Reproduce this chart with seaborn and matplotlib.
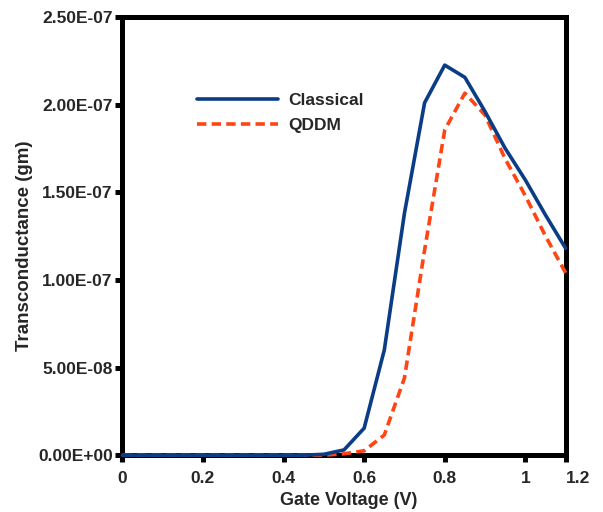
import matplotlib
matplotlib.use("Agg")
import matplotlib.pyplot as plt
from matplotlib.ticker import FuncFormatter
import seaborn as sns
import pandas as pd

# Gate voltage sweep (V)
gate_voltage = [0.00, 0.05, 0.10, 0.15, 0.20, 0.25, 0.30, 0.35, 0.40, 0.45,
                0.50, 0.55, 0.60, 0.65, 0.70, 0.75, 0.80, 0.85, 0.90, 0.95,
                1.00, 1.05, 1.10]

# Transconductance gm (S) for the two transport models
gm_classical = [0.0, 0.0, 0.0, 0.0, 0.0, 0.0, 0.0, 0.0, 0.0, 0.0,
                5.0e-10, 3.0e-9, 1.54e-8, 6.0e-8, 1.38e-7, 2.01e-7, 2.225e-7, 2.155e-7,
                1.96e-7, 1.75e-7, 1.57e-7, 1.37e-7, 1.18e-7]
gm_qddm = [0.0, 0.0, 0.0, 0.0, 0.0, 0.0, 0.0, 0.0, 0.0, 0.0,
           0.0, 8.0e-10, 2.5e-9, 1.15e-8, 4.4e-8, 1.17e-7, 1.855e-7, 2.065e-7,
           1.94e-7, 1.69e-7, 1.48e-7, 1.25e-7, 1.04e-7]

x_ticks = [0.0, 0.2, 0.4, 0.6, 0.8, 1.0, 1.1]
x_tick_labels = ["0", "0.2", "0.4", "0.6", "0.8", "1", "1.2"]
y_ticks = [0.0, 5.0e-8, 1.0e-7, 1.5e-7, 2.0e-7, 2.5e-7]

sns.set_theme(style="white")
plt.rcParams["font.family"] = ["Liberation Sans", "DejaVu Sans"]
plt.rcParams["font.weight"] = "bold"

df = pd.DataFrame({"Vg": gate_voltage, "Classical": gm_classical, "QDDM": gm_qddm})

fig = plt.figure(figsize=(6.03, 5.12), dpi=100)
ax = fig.add_axes([0.203, 0.111, 0.735, 0.856])

sns.lineplot(data=df, x="Vg", y="QDDM", ax=ax, color="#FF4514",
             linewidth=2.6, dashes=(2.6, 1.45), label="QDDM",
             clip_on=False, zorder=4)
sns.lineplot(data=df, x="Vg", y="Classical", ax=ax, color="#0B3D86",
             linewidth=2.6, label="Classical", clip_on=False, zorder=5)

ax.set_xlim(0, 1.1)
ax.set_ylim(0, 2.5e-7)
ax.set_xticks(x_ticks)
ax.set_xticklabels(x_tick_labels)
ax.get_xticklabels()[-1].set_horizontalalignment("left")
ax.set_yticks(y_ticks)
ax.yaxis.set_major_formatter(FuncFormatter(lambda v, p: f"{v:.2E}"))

for side in ["left", "right", "top", "bottom"]:
    ax.spines[side].set_visible(True)
    ax.spines[side].set_color("black")
    ax.spines[side].set_linewidth(3.6)
    ax.spines[side].set_zorder(3)

ax.tick_params(axis="both", which="major", direction="out", length=5, width=3.6,
               color="black", labelsize=12.5, bottom=True, left=True)
ax.tick_params(axis="x", pad=6.5)
ax.tick_params(axis="y", pad=2)
for lab in ax.get_xticklabels() + ax.get_yticklabels():
    lab.set_fontweight("bold")

ax.set_xlabel("Gate Voltage (V)", fontsize=13, fontweight="bold")
ax.set_ylabel("Transconductance (gm)", fontsize=13.5, fontweight="bold")
ax.xaxis.set_label_coords(0.51, -0.085)
ax.yaxis.set_label_coords(-0.201, 0.477)

handles, labels = ax.get_legend_handles_labels()
order = [labels.index("Classical"), labels.index("QDDM")]
ax.legend([handles[i] for i in order], [labels[i] for i in order],
          loc="upper left", bbox_to_anchor=(0.168, 0.826), frameon=False,
          handlelength=4.7, handletextpad=0.55, labelspacing=0.55,
          prop={"size": 12.5, "weight": "bold"}, borderaxespad=0, borderpad=0)

fig.savefig("out.png", dpi=100)
